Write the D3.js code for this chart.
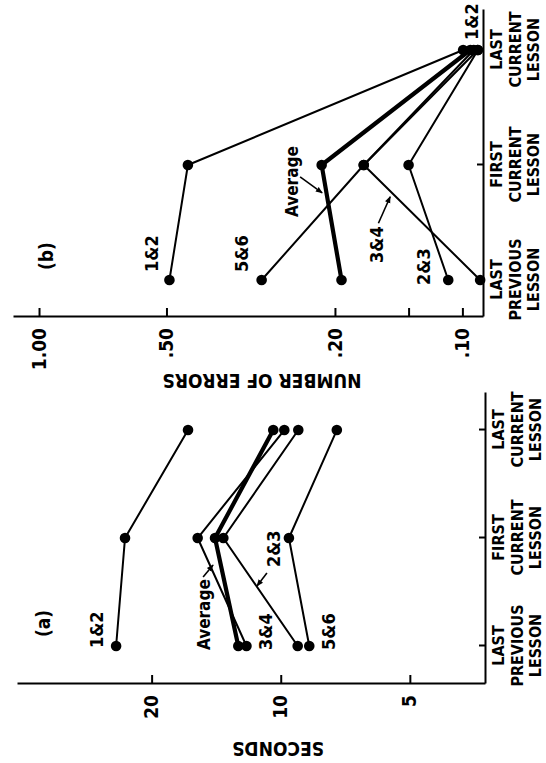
<!DOCTYPE html>
<html><head><meta charset="utf-8">
<script src="https://cdn.jsdelivr.net/npm/d3@7"></script>
<style>
html,body{margin:0;padding:0;background:#fff;}
svg{display:block;}
text{font-family:"DejaVu Sans Condensed","DejaVu Sans",sans-serif;font-weight:bold;font-stretch:condensed;fill:#000;}
</style></head>
<body>
<svg id="chart" width="546" height="763"></svg>
<script>
// ---------- data ----------
const categories = [["LAST","PREVIOUS","LESSON"],["FIRST","CURRENT","LESSON"],["LAST","CURRENT","LESSON"]];

// (a) seconds
const secTicks = [20, 10, 5];
const secTickLabels = ["20", "10", "5"];
const sec12  = [24.2, 23.07, 16.45];
const sec23  = [9.13, 13.61, 9.10];
const sec34  = [12.02, 15.62, 9.81];
const secAvg = [12.56, 14.23, 10.41];
const sec56  = [8.58, 9.57, 7.40];

// (b) number of errors
const errTicks = [1.0, 0.5, 0.2, 0.134, 0.1];
const errTickLabels = ["1.00", ".50", ".20", "", ".10"];
const err12  = [0.492, 0.445, 0.0996];
const errAvg = [0.193, 0.215, 0.0958];
const err56  = [0.298, 0.171, 0.094];
const err34  = [0.0908, 0.171, 0.092];
const err23  = [0.108, 0.134, 0.0919];

// annotation labels: [text, category position, value]
const secLabels = [["(a)",0.083,34.5],["1&2",-0.019,25.96],["Average",-0.037,14.62],["3&4",-0.037,10.48],["2&3",0.731,10.04],["5&6",-0.037,7.47]];
const secArrows = [[0.639,15.17,0.75,14.38],[0.676,10.77,0.556,11.36]];
const errLabels = [["(b)",0.087,0.927],["1&2",0.07,0.523],["5&6",0.07,0.321],["Average",0.548,0.2444],["3&4",0.148,0.1539],["2&3",-0.043,0.1192],["1&2",2.087,0.0918]];
const errArrows = [[0.896,0.2417,0.757,0.2144],[0.493,0.1579,0.724,0.1481]];

// ---------- drawing ----------
const W = 546, H = 763;
const svg = d3.select("#chart");
svg.append("defs").append("marker")
  .attr("id","ah").attr("viewBox","0 0 10 10").attr("refX",9).attr("refY",5)
  .attr("markerWidth",7).attr("markerHeight",7).attr("markerUnits","userSpaceOnUse")
  .attr("orient","auto")
  .append("path").attr("d","M0,1L10,5L0,9Z").attr("fill","#000");

// whole figure rotated a quarter turn
const root = svg.append("g").attr("transform", `translate(0,${H}) rotate(-90)`);

function panel(cfg){
  const g = root.append("g");
  const x = d3.scaleLinear().domain(cfg.xDomain).range(cfg.xRange);
  const y = d3.scaleLog().domain(cfg.yDomain).range(cfg.yRange);

  // value axis
  const ya = g.append("g").attr("transform",`translate(${cfg.xRange[0]},0)`)
    .call(d3.axisLeft(y).tickValues(cfg.ticks).tickFormat((d,i)=>cfg.tickLabels[i])
      .tickSizeInner(-9).tickSizeOuter(0).tickPadding(11));
  ya.selectAll("path,line").attr("stroke","#000").attr("stroke-width",2);
  ya.selectAll("text").attr("font-size",19).attr("fill","#000").attr("font-family",null);

  // category axis
  const xa = g.append("g").attr("transform",`translate(0,${cfg.yRange[0]})`)
    .call(d3.axisBottom(x).tickValues([0,1,2]).tickFormat(()=>"")
      .tickSizeInner(-6).tickSizeOuter(0));
  xa.selectAll("path,line").attr("stroke","#000").attr("stroke-width",2);
  xa.selectAll(".tick text").attr("font-family",null).attr("font-size",16).attr("y",0).attr("dy",null)
    .each(function(d){
      const t = d3.select(this);
      categories[d].forEach((s,k)=>{
        t.append("tspan").attr("x",0).attr("y",19+k*18.5).text(s);
      });
    });

  // axis title
  g.append("text").attr("transform",`translate(${cfg.titlePos[0]},${cfg.titlePos[1]}) rotate(-90)`)
    .attr("text-anchor","middle").attr("font-size",19).text(cfg.title);

  const line = d3.line().x((d,i)=>x(i)).y(d=>y(d));
  cfg.series.forEach(s=>{
    g.append("path").attr("d",line(s.values)).attr("fill","none")
      .attr("stroke","#000").attr("stroke-width",s.thick?4.2:2).attr("stroke-linejoin","round");
  });
  cfg.series.forEach(s=>{
    g.selectAll(null).data(s.values).enter().append("circle")
      .attr("cx",(d,i)=>x(i)).attr("cy",d=>y(d)).attr("r",5.3).attr("fill","#000");
  });

  cfg.labels.forEach(l=>{
    const fs = l[0].startsWith("(") ? 19 : (l[0]==="Average" ? 17 : 18);
    g.append("text").attr("x",x(l[1])).attr("y",y(l[2])).attr("font-size",fs).text(l[0]);
  });
  cfg.arrows.forEach(a=>{
    g.append("line").attr("x1",x(a[0])).attr("y1",y(a[1])).attr("x2",x(a[2])).attr("y2",y(a[3]))
      .attr("stroke","#000").attr("stroke-width",1.6).attr("marker-end","url(#ah)");
  });
}

panel({
  xDomain:[-0.352,2.343], xRange:[79,370],
  yDomain:[3.34,41.2], yRange:[485,17],
  ticks:secTicks, tickLabels:secTickLabels,
  title:"SECONDS", titlePos:[21,278],
  series:[{values:sec12},{values:sec23},{values:sec34},{values:sec56},{values:secAvg,thick:true}],
  labels:secLabels, arrows:secArrows
});
panel({
  xDomain:[-0.322,2.348], xRange:[446,753],
  yDomain:[0.0894,1.152], yRange:[483,13],
  ticks:errTicks, tickLabels:errTickLabels,
  title:"NUMBER OF ERRORS", titlePos:[389,262],
  series:[{values:err12},{values:err23},{values:err34},{values:err56},{values:errAvg,thick:true}],
  labels:errLabels, arrows:errArrows
});
</script>
</body></html>
